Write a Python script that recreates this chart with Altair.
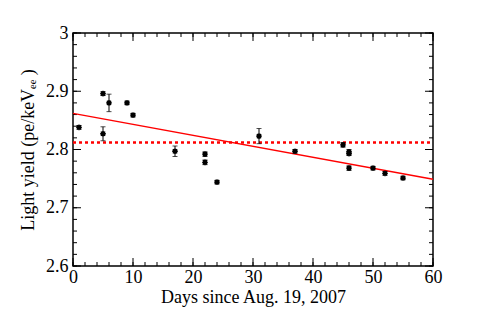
import altair as alt
import pandas as pd

days = [1, 5, 5, 6, 9, 10, 17, 22, 22, 24, 31, 37, 45, 46, 46, 46, 50, 52, 55]
light_yield = [2.838, 2.896, 2.827, 2.880, 2.880, 2.859, 2.797, 2.792, 2.778, 2.744,
               2.823, 2.797, 2.808, 2.796, 2.793, 2.768, 2.768, 2.759, 2.751]
errors = [0.003, 0.003, 0.012, 0.015, 0.003, 0.003, 0.009, 0.004, 0.004, 0.003,
          0.013, 0.003, 0.004, 0.004, 0.003, 0.004, 0.003, 0.003, 0.003]

fit_days = [0, 60]
fit_yield = [2.862, 2.749]
mean_days = [0, 60]
mean_yield = [2.812, 2.812]

x_major = [0, 10, 20, 30, 40, 50, 60]
x_minor = list(range(0, 61, 2))
y_major = [2.6, 2.7, 2.8, 2.9, 3.0]
y_minor = [round(2.6 + 0.02 * i, 2) for i in range(21)]

W, H = 360, 233
FONT = "Liberation Serif"

df = pd.DataFrame({"day": days, "ly": light_yield, "err": errors})
df["lo"] = df["ly"] - df["err"]
df["hi"] = df["ly"] + df["err"]
fit_df = pd.DataFrame({"day": fit_days, "ly": fit_yield})
mean_df = pd.DataFrame({"day": mean_days, "ly": mean_yield})

xs = alt.Scale(domain=[0, 60], nice=False, zero=False)
ys = alt.Scale(domain=[2.6, 3.0], nice=False, zero=False)


def x_ticks(values, size):
    d = pd.DataFrame({"v": values})
    bottom = alt.Chart(d).mark_rule(color="black", strokeWidth=1).encode(
        x=alt.X("v:Q", scale=xs, axis=None),
        y=alt.value(H), y2=alt.value(H - size))
    top = alt.Chart(d).mark_rule(color="black", strokeWidth=1).encode(
        x=alt.X("v:Q", scale=xs, axis=None),
        y=alt.value(0), y2=alt.value(size))
    return [bottom, top]


def y_ticks(values, size):
    d = pd.DataFrame({"v": values})
    left = alt.Chart(d).mark_rule(color="black", strokeWidth=1).encode(
        y=alt.Y("v:Q", scale=ys, axis=None),
        x=alt.value(0), x2=alt.value(size))
    right = alt.Chart(d).mark_rule(color="black", strokeWidth=1).encode(
        y=alt.Y("v:Q", scale=ys, axis=None),
        x=alt.value(W), x2=alt.value(W - size))
    return [left, right]


asterisk = ("M-1,0L1,0M0,-1L0,1M-0.75,-0.75L0.75,0.75M-0.75,0.75L0.75,-0.75"
            "M-0.55,-0.55L0.55,-0.55L0.55,0.55L-0.55,0.55Z")

points = alt.Chart(df).mark_point(shape=asterisk, filled=False, color="black",
                                  strokeWidth=1.3, size=32, opacity=1).encode(
    x=alt.X("day:Q", scale=xs, axis=alt.Axis(
        orient="bottom", values=x_major, ticks=False, domain=False, grid=False,
        labelFont=FONT, labelFontSize=18, labelColor="black", labelPadding=2,
        labelFlush=False,
        title="Days since Aug. 19, 2007", titleFont=FONT, titleFontSize=18,
        titleFontWeight="normal", titleColor="black", titlePadding=2)),
    y=alt.Y("ly:Q", scale=ys, axis=alt.Axis(
        orient="left", values=y_major, ticks=False, domain=False, grid=False,
        labelFont=FONT, labelFontSize=18, labelColor="black", labelPadding=5,
        labelFlush=False,
        labelExpr="datum.value == 3 ? '3' : format(datum.value, '.1f')",
        title="Light yield (pe/keVₑₑ )", titleFont=FONT, titleFontSize=18,
        titleFontWeight="normal", titleColor="black", titlePadding=8)),
)

bars = alt.Chart(df).mark_rule(color="black", strokeWidth=1).encode(
    x=alt.X("day:Q", scale=xs, axis=None),
    y=alt.Y("lo:Q", scale=ys, axis=None),
    y2="hi:Q",
)

caps_lo = alt.Chart(df).mark_tick(orient="horizontal", color="black",
                                  thickness=1, size=5).encode(
    x=alt.X("day:Q", scale=xs, axis=None),
    y=alt.Y("lo:Q", scale=ys, axis=None),
)

caps_hi = alt.Chart(df).mark_tick(orient="horizontal", color="black",
                                  thickness=1, size=5).encode(
    x=alt.X("day:Q", scale=xs, axis=None),
    y=alt.Y("hi:Q", scale=ys, axis=None),
)

fit = alt.Chart(fit_df).mark_line(color="#ff0000", strokeWidth=1.5).encode(
    x=alt.X("day:Q", scale=xs, axis=None),
    y=alt.Y("ly:Q", scale=ys, axis=None),
)

mean = alt.Chart(mean_df).mark_line(color="#ff0000", strokeWidth=2.5,
                                    strokeDash=[3, 3]).encode(
    x=alt.X("day:Q", scale=xs, axis=None),
    y=alt.Y("ly:Q", scale=ys, axis=None),
)

tick_layers = x_ticks(x_major, 8) + x_ticks(x_minor, 4) + y_ticks(y_major, 8) + y_ticks(y_minor, 4)

chart = alt.layer(*tick_layers, mean, fit, bars, caps_lo, caps_hi, points).resolve_axis(
    x="independent", y="independent"
).properties(
    width=W, height=H,
    autosize=alt.AutoSizeParams(type="none"),
    padding={"left": 65, "top": 25, "right": 44, "bottom": 64},
    background="white",
).configure_view(stroke="black", strokeWidth=1.5)

chart.save("out.html", embed_options={"renderer": "svg", "actions": False})
